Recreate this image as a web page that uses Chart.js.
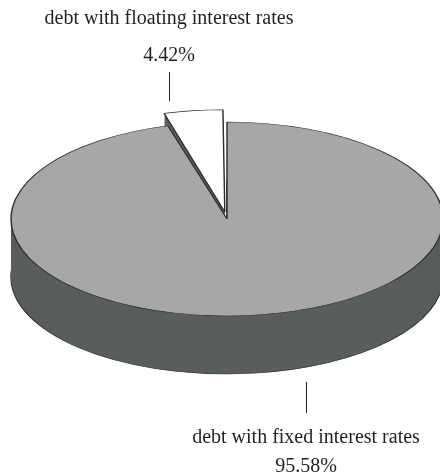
<!DOCTYPE html>
<html>
<head>
<meta charset="utf-8">
<script src="https://cdn.jsdelivr.net/npm/chart.js@4.4.1/dist/chart.umd.min.js"></script>
<style>
  html, body { margin: 0; padding: 0; background: #fff; }
  #wrap { position: relative; width: 440px; height: 476px; }
</style>
</head>
<body>
<div id="wrap"><canvas id="debtChart"></canvas></div>
<script>
// share of total debt by interest type
const labels = ["debt with floating interest rates", "debt with fixed interest rates"];
const shares = [4.42, 95.58];
const pull = [64, 0]; // exploded slice

const faceColors = ["#ffffff", "#a7a7a7"];
const sideColor = "#595e5e";
const edgeColor = "#2b2b2b";
const tilt = 0.449;   // vertical squash of the disc
const depth = 58;     // thickness of the disc in px

// where the callouts sit: text centre, baselines, leader line
const callouts = [
  { x: 169, name: 24, pct: 61, line: [72, 101] },
  { x: 306, name: 443, pct: 472, line: [382, 413] }
];

// draw one arc squashed into an ellipse, shifted down by dy
function paintArc(ctx, arc, dy, opts){
  const saved = arc.options;
  arc.options = Object.assign({}, saved, opts);
  ctx.save();
  ctx.translate(arc.x, arc.y + dy);
  ctx.scale(1, tilt);
  ctx.translate(-arc.x, -arc.y);
  arc.draw(ctx);
  ctx.restore();
  arc.options = saved;
}

const pie3d = {
  id: "pie3d",
  beforeDatasetsDraw(chart){
    const ctx = chart.ctx;
    const arcs = chart.getDatasetMeta(0).data;
    // bottom edge with outline, then the walls layer by layer
    arcs.forEach(a => paintArc(ctx, a, depth, {backgroundColor: sideColor, borderColor: edgeColor, borderWidth: 1.4}));
    for(let k = depth - 1; k > 0; k--){
      arcs.forEach(a => paintArc(ctx, a, k, {backgroundColor: sideColor, borderWidth: 0}));
    }
    // top faces
    arcs.forEach(a => paintArc(ctx, a, 0, {}));
    return false;
  },
  afterDraw(chart){
    const ctx = chart.ctx;
    ctx.save();
    ctx.fillStyle = "#231f20";
    ctx.strokeStyle = "#231f20";
    ctx.lineWidth = 1;
    ctx.font = "20px 'Liberation Serif', 'Times New Roman', serif";
    ctx.textAlign = "center";
    ctx.textBaseline = "alphabetic";
    callouts.forEach((c, i) => {
      ctx.fillText(labels[i], c.x, c.name);
      ctx.fillText(shares[i].toFixed(2) + "%", c.x, c.pct);
      ctx.beginPath();
      ctx.moveTo(c.x + 0.5, c.line[0]);
      ctx.lineTo(c.x + 0.5, c.line[1]);
      ctx.stroke();
    });
    ctx.restore();
  }
};

new Chart("debtChart", {
  type: "pie",
  data: {
    labels: labels,
    datasets: [{
      data: shares,
      backgroundColor: faceColors,
      borderColor: edgeColor,
      borderWidth: 1.4,
      offset: pull
    }]
  },
  options: {
    responsive: true,
    maintainAspectRatio: false,
    animation: false,
    radius: 216,
    rotation: -shares[0] / 100 * 360,
    layout: { padding: { left: 14, right: 0, top: 0, bottom: 38 } },
    plugins: {
      legend: { display: false },
      tooltip: { enabled: false }
    }
  },
  plugins: [pie3d]
});
</script>
</body>
</html>
